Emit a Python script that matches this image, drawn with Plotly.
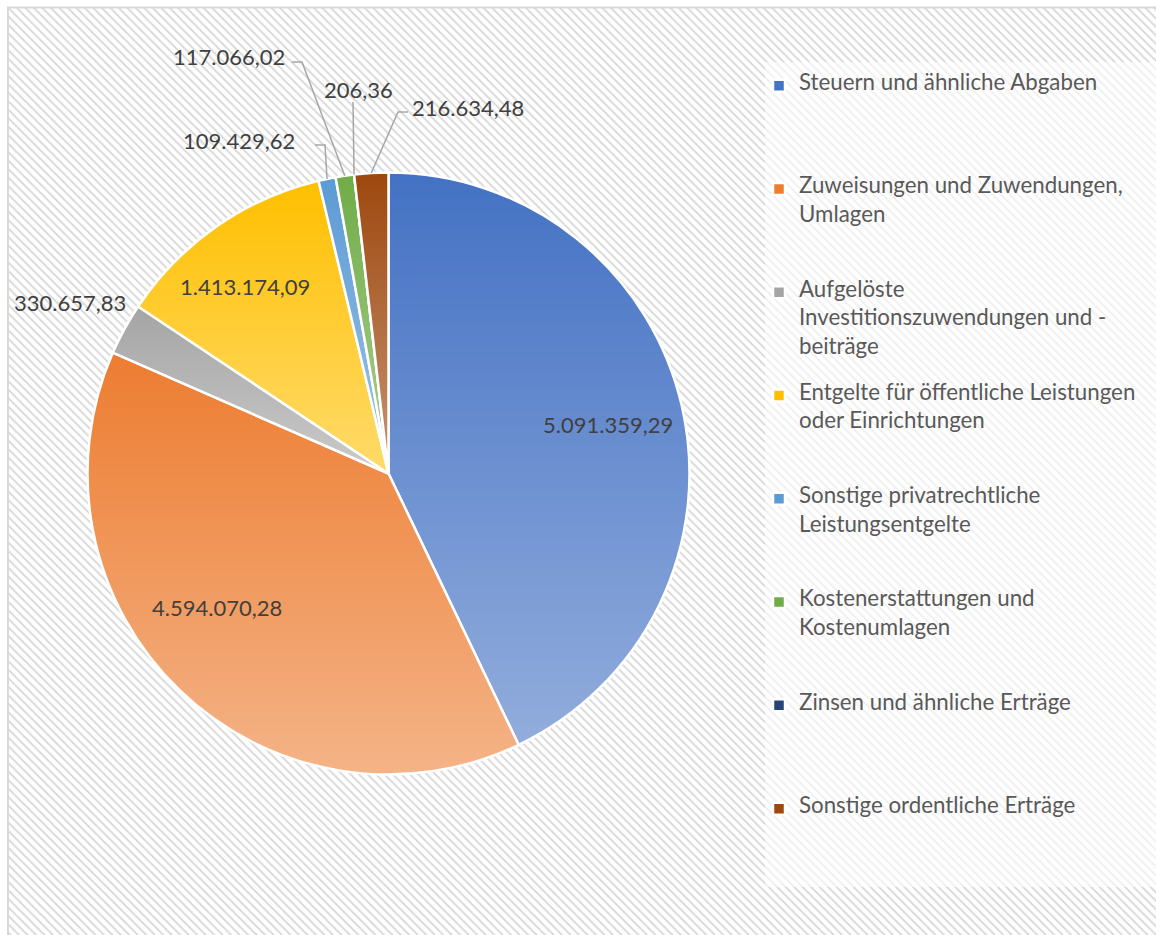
import math
import zlib
import struct
import base64
import numpy as np
import plotly.graph_objects as go

W, H = 1156, 935

labels = [
    "Steuern und ähnliche Abgaben",
    "Zuweisungen und Zuwendungen, Umlagen",
    "Aufgelöste Investitionszuwendungen und - beiträge",
    "Entgelte für öffentliche Leistungen oder Einrichtungen",
    "Sonstige privatrechtliche Leistungsentgelte",
    "Kostenerstattungen und Kostenumlagen",
    "Zinsen und ähnliche Erträge",
    "Sonstige ordentliche Erträge",
]
legend_lines = [
    ["Steuern und ähnliche Abgaben"],
    ["Zuweisungen und Zuwendungen,", "Umlagen"],
    ["Aufgelöste", "Investitionszuwendungen und -", "beiträge"],
    ["Entgelte für öffentliche Leistungen", "oder Einrichtungen"],
    ["Sonstige privatrechtliche", "Leistungsentgelte"],
    ["Kostenerstattungen und", "Kostenumlagen"],
    ["Zinsen und ähnliche Erträge"],
    ["Sonstige ordentliche Erträge"],
]
values = [5091359.29, 4594070.28, 330657.83, 1413174.09, 109429.62, 117066.02, 206.36, 216634.48]
colors = ["#4472C4", "#ED7D31", "#A5A5A5", "#FFC000", "#5B9BD5", "#70AD47", "#264478", "#9E480E"]


def de(v):
    s = f"{v:,.2f}"
    return s.replace(",", "X").replace(".", ",").replace("X", ".")


# pie geometry (pixels)
CX, CY, R = 388.5, 473.5, 301.0
dom_x = [(CX - R) / W, (CX + R) / W]
dom_y = [1 - (CY + R) / H, 1 - (CY - R) / H]

LEG_FS = 11.02
LEG_TXT = 22.3
TXT_FS = 22


def leg_label(lines):
    slots = []
    for i in range(3):
        if i < len(lines):
            slots.append(f"<span style='font-size:{LEG_TXT}px'>{lines[i]}</span>")
        else:
            slots.append("&nbsp;")
        slots.append("&nbsp;")
    return "<br>".join(slots) + "<br>&nbsp;"


def px(x):
    return x / W


def py(y):
    return 1 - y / H


fig = go.Figure()

# hatched background
fig.add_trace(go.Scatter(
    x=[0, 1, 1, 0, 0], y=[0, 0, 1, 1, 0], mode="lines", fill="toself",
    line=dict(width=0), fillcolor="white",
    fillpattern=dict(shape="\\", size=6, solidity=0.3, fgcolor="#d6d6d6", bgcolor="white", fillmode="replace"),
    hoverinfo="skip", showlegend=False,
))

fig.add_trace(go.Pie(
    labels=[leg_label(l) for l in legend_lines],
    values=values,
    textinfo="none",
    marker=dict(colors=colors, line=dict(color="white", width=2.5)),
    sort=False, direction="clockwise", rotation=0,
    domain=dict(x=dom_x, y=dom_y),
    hoverinfo="skip",
))

# slice angles from data
total = sum(values)
starts, ends, mids = [], [], []
cum = 0.0
for v in values:
    starts.append(cum / total * 360.0)
    mids.append((cum + v / 2) / total * 360.0)
    cum += v
    ends.append(cum / total * 360.0)


def edge(i):
    a = math.radians(mids[i])
    return (CX + R * math.sin(a), CY - R * math.cos(a))


# gradient overlay (per slice: white tint growing from slice top to slice bottom)
AMAX = 0.42
tops, bots = [], []
for s, e in zip(starts, ends):
    th = np.radians(np.linspace(s, e, 400))
    ys = CY - R * np.cos(th)
    tops.append(min(ys.min(), CY))
    bots.append(max(ys.max(), CY))
tops = np.array(tops)
bots = np.array(bots)
N = int(2 * R)
gy, gx = np.mgrid[0:N, 0:N]
X = CX - R + gx + 0.5
Y = CY - R + gy + 0.5
dx, dy = X - CX, Y - CY
dist = np.hypot(dx, dy)
ang = np.degrees(np.arctan2(dx, -dy)) % 360.0
idx = np.clip(np.searchsorted(np.array(ends), ang), 0, len(values) - 1)
t = np.clip((Y - tops[idx]) / np.maximum(bots[idx] - tops[idx], 1), 0, 1)
alpha = AMAX * t
alpha = alpha * np.clip(R + 0.5 - dist, 0, 1)
img = np.zeros((N, N, 4), dtype=np.uint8)
img[..., :3] = 255
img[..., 3] = (alpha * 255).round().astype(np.uint8)


def png_bytes(arr):
    h, w, _ = arr.shape
    raw = b"".join(b"\x00" + arr[r].tobytes() for r in range(h))

    def chunk(tag, data):
        return struct.pack(">I", len(data)) + tag + data + struct.pack(">I", zlib.crc32(tag + data) & 0xFFFFFFFF)

    return (b"\x89PNG\r\n\x1a\n" + chunk(b"IHDR", struct.pack(">IIBBBBB", w, h, 8, 6, 0, 0, 0))
            + chunk(b"IDAT", zlib.compress(raw, 9)) + chunk(b"IEND", b""))


grad_src = "data:image/png;base64," + base64.b64encode(png_bytes(img)).decode()

# data labels: (index, text centre px, leader points px before slice edge)
label_pos = [
    (0, (608, 424), None),
    (1, (217, 607), None),
    (3, (245, 286), None),
    (2, (70, 303), None),
    (4, (239, 141), [(315, 145), (325, 145)]),
    (5, (229, 57), [(292, 62), (302, 62)]),
    (6, (358, 89), [(353, 102)]),
    (7, (468, 107), [(408, 112), (398, 112)]),
]
annotations = []
shapes = []
for i, (tx, ty), pts in label_pos:
    annotations.append(dict(
        x=px(tx), y=py(ty), xref="paper", yref="paper", text=de(values[i]),
        showarrow=False, xanchor="center", yanchor="middle",
        font=dict(family="Lato", size=TXT_FS, color="#404040"),
    ))
    if pts:
        ex, ey = edge(i)
        allp = pts + [(ex, ey)]
        path = "M " + " L ".join(f"{px(x):.5f},{py(y):.5f}" for x, y in allp)
        shapes.append(dict(type="path", path=path, xref="paper", yref="paper",
                           line=dict(color="#a6a6a6", width=1.5), layer="above"))

# legend light box
shapes.append(dict(type="rect", xref="paper", yref="paper",
                   x0=px(765), x1=1.0, y0=py(887), y1=py(62),
                   fillcolor="rgba(255,255,255,0.6)", line=dict(width=0), layer="above"))
# frame
shapes.append(dict(type="path", xref="paper", yref="paper",
                   path=f"M {px(8)},0 L {px(8)},{py(7.5)} L 1,{py(7.5)}",
                   line=dict(color="#d9d9d9", width=2), layer="above"))

fig.update_layout(
    width=W, height=H,
    margin=dict(l=0, r=0, t=0, b=0),
    paper_bgcolor="white", plot_bgcolor="white",
    xaxis=dict(domain=[px(8), 1], range=[0, 1], visible=False, fixedrange=True),
    yaxis=dict(domain=[0, py(7.5)], range=[0, 1], visible=False, fixedrange=True),
    showlegend=True,
    legend=dict(
        x=px(759), y=py(72), xanchor="left", yanchor="top",
        font=dict(family="Lato", size=LEG_FS, color="#595959"),
        bgcolor="rgba(0,0,0,0)", valign="top",
    ),
    images=[dict(source=grad_src, xref="paper", yref="paper",
                 x=px(CX - R), y=py(CY - R), sizex=2 * R / W, sizey=2 * R / H,
                 xanchor="left", yanchor="top", sizing="stretch", layer="above")],
    annotations=annotations,
    shapes=shapes,
)

fig.write_html("out.html", config={"displayModeBar": False},
               post_script="document.body.style.margin='0';")
